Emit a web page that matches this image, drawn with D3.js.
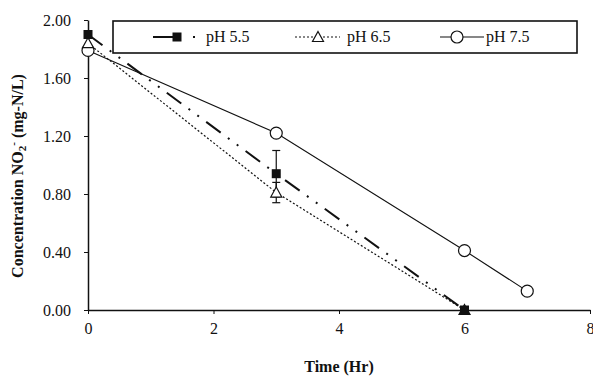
<!DOCTYPE html>
<html>
<head>
<meta charset="utf-8">
<script src="https://cdn.jsdelivr.net/npm/d3@7/dist/d3.min.js"></script>
<style>
  html, body { margin: 0; padding: 0; background: #fff; }
  svg { display: block; }
  text { font-family: "Liberation Serif", "Times New Roman", serif; fill: #111; }
</style>
</head>
<body>
<svg id="chart" width="593" height="379"></svg>
<script>
// Nitrite concentration over time at three pH levels
const timeHr = [0, 3, 6, 7];
const ph55 = [1.90, 0.94, 0.00];
const ph65 = [1.84, 0.81, 0.00];
const ph75 = [1.79, 1.22, 0.41, 0.13];
const err55 = [0, 0.16, 0];
const err65 = [0, 0.07, 0];
const xTicks = [0, 2, 4, 6, 8];
const yTicks = [0, 0.4, 0.8, 1.2, 1.6, 2.0];
const seriesNames = ["pH 5.5", "pH 6.5", "pH 7.5"];

const svg = d3.select("#chart");
const x = d3.scaleLinear().domain([0, 8]).range([88, 590]);
const y = d3.scaleLinear().domain([0, 2]).range([310, 20]);

// axes
const gx = svg.append("g").attr("transform", `translate(0,${y(0)})`)
  .call(d3.axisBottom(x).tickValues(xTicks).tickSize(4).tickSizeOuter(0).tickPadding(9).tickFormat(d3.format("d")));
const gy = svg.append("g").attr("transform", `translate(${x(0)},0)`)
  .call(d3.axisLeft(y).tickValues(yTicks).tickSize(4).tickSizeOuter(0).tickPadding(13).tickFormat(d3.format(".2f")));
[gx, gy].forEach(g => {
  g.select(".domain").attr("stroke", "#111").attr("stroke-width", 1.5);
  g.selectAll(".tick line").attr("stroke", "#111");
  g.selectAll(".tick text").attr("font-size", 16).attr("font-family", "Liberation Serif").attr("fill", "#111");
});

// axis titles
svg.append("text").attr("x", 339).attr("y", 372).attr("text-anchor", "middle")
  .attr("font-size", 16).attr("font-weight", "bold").text("Time (Hr)");
const yt = svg.append("text").attr("transform", "translate(23,176) rotate(-90)")
  .attr("text-anchor", "middle").attr("font-size", 16).attr("font-weight", "bold");
yt.append("tspan").text("Concentration NO");
yt.append("tspan").attr("font-size", 11).attr("dy", 3).text("2");
yt.append("tspan").attr("font-size", 11).attr("dy", -9).text("-");
yt.append("tspan").attr("dy", 6).text(" (mg-N/L)");

const line = d3.line().x(d => x(d[0])).y(d => y(d[1]));
const pts = vals => vals.map((v, i) => [timeHr[i], v]);

// series lines
svg.append("path").datum(pts(ph75)).attr("d", line).attr("fill", "none")
  .attr("stroke", "#111").attr("stroke-width", 1.1);
svg.append("path").datum(pts(ph65)).attr("d", line).attr("fill", "none")
  .attr("stroke", "#111").attr("stroke-width", 1.2).attr("stroke-dasharray", "2,2");
svg.append("path").datum(pts(ph55)).attr("d", line).attr("fill", "none")
  .attr("stroke", "#111").attr("stroke-width", 2).attr("stroke-dasharray", "18,9,2,9,2,9");

// error bars
function errBars(vals, errs) {
  vals.forEach((v, i) => {
    if (!errs[i]) return;
    const cx = x(timeHr[i]);
    svg.append("line").attr("x1", cx).attr("x2", cx).attr("y1", y(v - errs[i])).attr("y2", y(v + errs[i]))
      .attr("stroke", "#111").attr("stroke-width", 1.2);
    [v - errs[i], v + errs[i]].forEach(e => svg.append("line")
      .attr("x1", cx - 4).attr("x2", cx + 4).attr("y1", y(e)).attr("y2", y(e))
      .attr("stroke", "#111").attr("stroke-width", 1.2));
  });
}
errBars(ph55, err55);
errBars(ph65, err65);

// markers
const square = (g, cx, cy) => g.append("rect").attr("x", cx - 4.5).attr("y", cy - 4.5)
  .attr("width", 9).attr("height", 9).attr("fill", "#111");
const triangle = (g, cx, cy) => g.append("path")
  .attr("d", `M${cx},${cy - 5.5}L${cx + 5.5},${cy + 4.5}L${cx - 5.5},${cy + 4.5}Z`)
  .attr("fill", "#fff").attr("stroke", "#111").attr("stroke-width", 1.2);
const circle = (g, cx, cy) => g.append("circle").attr("cx", cx).attr("cy", cy).attr("r", 6)
  .attr("fill", "#fff").attr("stroke", "#111").attr("stroke-width", 1.2);

ph75.forEach((v, i) => circle(svg, x(timeHr[i]), y(v)));
ph65.forEach((v, i) => triangle(svg, x(timeHr[i]), y(v)));
ph55.forEach((v, i) => square(svg, x(timeHr[i]), y(v)));

// legend
const lg = svg.append("g");
lg.append("rect").attr("x", 113).attr("y", 21).attr("width", 464).attr("height", 32)
  .attr("fill", "#fff").attr("stroke", "#111").attr("stroke-width", 1.6);
const ly = 37;
lg.append("line").attr("x1", 153).attr("x2", 197).attr("y1", ly).attr("y2", ly)
  .attr("stroke", "#111").attr("stroke-width", 2).attr("stroke-dasharray", "24,16,2,10");
square(lg, 177, ly);
lg.append("line").attr("x1", 295).attr("x2", 340).attr("y1", ly).attr("y2", ly)
  .attr("stroke", "#111").attr("stroke-width", 1.2).attr("stroke-dasharray", "2,2");
triangle(lg, 318, ly);
lg.append("line").attr("x1", 440).attr("x2", 484).attr("y1", ly).attr("y2", ly)
  .attr("stroke", "#111").attr("stroke-width", 1.1);
circle(lg, 457, ly);
[206, 347, 486].forEach((lx, i) => lg.append("text").attr("x", lx).attr("y", ly + 5)
  .attr("font-size", 16).text(seriesNames[i]));
</script>
</body>
</html>
